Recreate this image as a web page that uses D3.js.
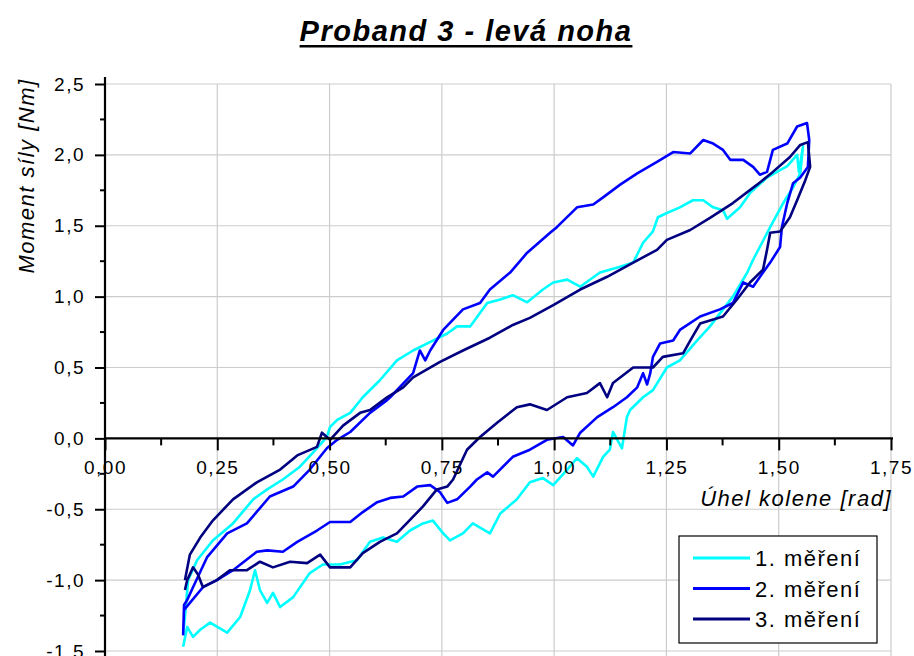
<!DOCTYPE html>
<html>
<head>
<meta charset="utf-8">
<script src="https://cdn.jsdelivr.net/npm/d3@7"></script>
<style>
  body { margin: 0; background: #fff; }
  text { font-family: "Liberation Sans", Arial, sans-serif; fill: #000; }
</style>
</head>
<body>
<svg id="chart"></svg>
<script>
// values: [angle rad, moment Nm]
const xTicks = [0, 0.25, 0.5, 0.75, 1, 1.25, 1.5, 1.75]
const yTicks = [-1.5, -1, -0.5, 0, 0.5, 1, 1.5, 2, 2.5]
const names = ['1. měření', '2. měření', '3. měření']
const colors = ['#00ffff', '#0000ff', '#000080']

const mereni1 = [
	[0.174,-1.47],[0.183,-1.33],[0.196,-1.40],[0.212,-1.35],[0.234,-1.30],[0.272,-1.37],[0.301,-1.26],
	[0.323,-1.07],[0.334,-0.93],[0.345,-1.07],[0.361,-1.16],[0.374,-1.09],[0.390,-1.19],[0.419,-1.12],
	[0.456,-0.95],[0.485,-0.89],[0.523,-0.89],[0.561,-0.86],[0.590,-0.73],[0.619,-0.70],[0.650,-0.73],
	[0.679,-0.65],[0.708,-0.60],[0.730,-0.58],[0.753,-0.67],[0.768,-0.72],[0.797,-0.67],[0.819,-0.60],
	[0.857,-0.67],[0.880,-0.53],[0.917,-0.43],[0.946,-0.31],[0.975,-0.28],[0.998,-0.33],[1.029,-0.22],
	[1.051,-0.14],[1.073,-0.20],[1.087,-0.27],[1.109,-0.13],[1.124,-0.08],[1.131,0.045],[1.151,-0.07],
	[1.162,0.15],[1.169,0.20],[1.198,0.29],[1.220,0.34],[1.251,0.50],[1.280,0.55],[1.318,0.69],
	[1.347,0.79],[1.376,0.91],[1.398,1.00],[1.430,1.17],[1.443,1.26],[1.481,1.49],[1.510,1.66],
	[1.532,1.77],[1.548,1.87],[1.554,2.06],[1.545,1.88],[1.541,2.00],
	[1.519,1.92],[1.496,1.88],[1.474,1.84],[1.436,1.73],[1.414,1.63],[1.385,1.55],[1.376,1.61],
	[1.354,1.63],[1.332,1.68],[1.309,1.68],[1.280,1.63],[1.251,1.59],[1.231,1.56],[1.220,1.46],
	[1.198,1.38],[1.176,1.24],[1.147,1.21],[1.102,1.17],[1.058,1.07],[1.029,1.12],[0.998,1.10],
	[0.975,1.05],[0.940,0.96],[0.908,1.01],[0.880,0.98],[0.851,0.955],[0.813,0.79],[0.784,0.79],
	[0.762,0.74],[0.730,0.69],[0.686,0.62],[0.650,0.55],[0.612,0.41],[0.574,0.29],[0.546,0.18],
	[0.517,0.13],[0.501,0.08],[0.494,0.01],[0.483,-0.03],[0.463,-0.10],[0.434,-0.20],[0.396,-0.29],
	[0.361,-0.36],[0.330,-0.43],[0.285,-0.60],[0.240,-0.72],[0.205,-0.86],[0.185,-1.00],[0.178,-1.26],
	[0.174,-1.37]
]

const mereni2 = [
	[0.174,-1.39],[0.176,-1.175],[0.183,-1.14],[0.196,-1.05],[0.227,-0.84],[0.272,-0.67],[0.316,-0.60],
	[0.367,-0.41],[0.419,-0.34],[0.456,-0.22],[0.494,-0.07],[0.517,-0.01],[0.546,0.045],[0.590,0.18],
	[0.628,0.27],[0.635,0.29],[0.686,0.46],[0.701,0.62],[0.713,0.55],[0.724,0.62],[0.753,0.765],
	[0.797,0.91],[0.835,0.955],[0.857,1.05],[0.902,1.17],[0.940,1.31],[0.991,1.45],[1.006,1.49],
	[1.051,1.63],[1.087,1.65],[1.109,1.70],[1.147,1.79],[1.185,1.87],[1.229,1.95],[1.265,2.02],
	[1.303,2.01],[1.332,2.105],[1.354,2.08],[1.376,2.035],[1.392,1.965],[1.421,1.965],[1.443,1.915],
	[1.458,1.86],[1.474,1.88],[1.487,2.035],[1.519,2.08],[1.541,2.20],[1.563,2.225],[1.568,2.105],
	[1.565,1.915],
	[1.548,1.84],[1.532,1.80],[1.519,1.66],[1.507,1.49],[1.503,1.35],[1.481,1.24],[1.465,1.17],
	[1.443,1.07],[1.421,1.10],[1.398,0.955],[1.369,0.91],[1.325,0.86],[1.280,0.765],[1.265,0.69],
	[1.236,0.67],[1.220,0.575],[1.214,0.46],[1.207,0.38],[1.198,0.46],[1.185,0.36],[1.162,0.29],
	[1.131,0.22],[1.096,0.15],[1.058,0.04],[1.042,-0.05],[1.020,0.01],[0.984,-0.01],[0.946,-0.08],
	[0.908,-0.13],[0.864,-0.27],[0.851,-0.24],[0.828,-0.29],[0.813,-0.34],[0.784,-0.43],[0.762,-0.455],
	[0.746,-0.38],[0.724,-0.33],[0.695,-0.34],[0.664,-0.41],[0.635,-0.42],[0.606,-0.45],[0.574,-0.52],
	[0.546,-0.59],[0.501,-0.59],[0.472,-0.65],[0.428,-0.73],[0.396,-0.80],[0.361,-0.79],[0.338,-0.80],
	[0.285,-0.93],[0.249,-1.00],[0.218,-1.05],[0.189,-1.16],[0.176,-1.21]
]

const mereni3 = [
	[0.178,-1.00],[0.189,-0.82],[0.212,-0.70],[0.240,-0.58],[0.285,-0.43],[0.338,-0.31],[0.390,-0.22],
	[0.428,-0.12],[0.472,-0.06],[0.483,0.04],[0.494,0.01],[0.501,-0.01],[0.530,0.09],[0.568,0.18],
	[0.590,0.20],[0.628,0.29],[0.664,0.36],[0.686,0.43],[0.746,0.54],[0.797,0.62],[0.857,0.71],
	[0.908,0.80],[0.946,0.85],[0.998,0.94],[1.058,1.05],[1.118,1.14],[1.176,1.24],[1.229,1.33],
	[1.251,1.40],[1.303,1.47],[1.347,1.555],[1.398,1.66],[1.452,1.79],[1.487,1.88],[1.525,1.985],
	[1.548,2.07],[1.565,2.09],[1.570,1.915],
	[1.559,1.82],[1.541,1.68],[1.525,1.56],[1.503,1.46],[1.481,1.45],[1.474,1.33],[1.465,1.19],
	[1.436,1.10],[1.407,0.98],[1.376,0.86],[1.325,0.81],[1.303,0.69],[1.287,0.60],[1.242,0.575],
	[1.220,0.50],[1.176,0.50],[1.131,0.39],[1.118,0.29],[1.102,0.39],[1.073,0.32],[1.029,0.29],
	[0.984,0.20],[0.946,0.24],[0.917,0.22],[0.873,0.11],[0.835,0.01],[0.806,-0.08],[0.775,-0.29],
	[0.762,-0.34],[0.739,-0.36],[0.708,-0.48],[0.650,-0.67],[0.612,-0.73],[0.574,-0.81],[0.546,-0.91],
	[0.501,-0.91],[0.479,-0.82],[0.450,-0.88],[0.412,-0.87],[0.374,-0.91],[0.345,-0.87],[0.316,-0.93],
	[0.278,-0.93],[0.249,-1.00],[0.218,-1.05],[0.207,-0.96],[0.196,-0.91],[0.183,-1.00],[0.178,-1.07]
]

const allSeries = [mereni1, mereni2, mereni3]

var width = 914, height = 656
var svg = d3.select("#chart")
	.attr("width", width)
	.attr("height", height)

var xScale = d3.scaleLinear().domain([0, 1.75]).range([105, 891])
var yScale = d3.scaleLinear().domain([-1.5, 2.5]).range([651, 84])

var cz = d3.formatLocale({ decimal: ",", thousands: ".", grouping: [3], currency: ["", ""], minus: "-" })
var fmtX = cz.format(".2f")
var fmtY = cz.format(".1f")

// grid
svg.append("g").selectAll("line")
	.data(yTicks)
	.enter().append("line")
	.attr("x1", xScale(0)).attr("x2", xScale(1.75))
	.attr("y1", d => yScale(d)).attr("y2", d => yScale(d))
	.style("stroke", "#cccccc").style("stroke-width", 1.2)

svg.append("g").selectAll("line")
	.data(xTicks.slice(1))
	.enter().append("line")
	.attr("x1", d => xScale(d)).attr("x2", d => xScale(d))
	.attr("y1", yScale(2.5)).attr("y2", height)
	.style("stroke", "#cccccc").style("stroke-width", 1.2)

// curves
var line = d3.line()
	.x(d => xScale(d[0]))
	.y(d => yScale(d[1]))

allSeries.forEach(function (s, i) {
	svg.append("path")
		.datum(s)
		.attr("d", line)
		.style("fill", "none")
		.style("stroke", colors[i])
		.style("stroke-width", 2.6)
		.style("stroke-linejoin", "round")
})

// y axis
var minorY = d3.range(-1.25, 2.5, 0.5)
var yAxis = svg.append("g")
	.attr("transform", `translate(${xScale(0)},0)`)
	.call(d3.axisLeft(yScale).tickValues(yTicks).tickSize(10).tickSizeOuter(0).tickFormat(fmtY))
yAxis.select(".domain").remove()
yAxis.selectAll("line").style("stroke", "#000").style("stroke-width", 2)
yAxis.selectAll("text")
	.attr("x", -20)
	.style("font-size", "19px")
	.style("letter-spacing", "1.5px")
	.style("font-family", "Liberation Sans, Arial, sans-serif")
yAxis.selectAll(".minor")
	.data(minorY)
	.enter().append("line")
	.attr("x1", -5).attr("x2", 0)
	.attr("y1", d => yScale(d)).attr("y2", d => yScale(d))
	.style("stroke", "#000").style("stroke-width", 2)

// x axis on zero line
var minorX = d3.range(0.125, 1.75, 0.25)
var xAxis = svg.append("g")
	.attr("transform", `translate(0,${yScale(0)})`)
	.call(d3.axisBottom(xScale).tickValues(xTicks).tickSize(12).tickSizeOuter(0).tickFormat(fmtX))
xAxis.select(".domain").remove()
xAxis.selectAll("line").style("stroke", "#000").style("stroke-width", 2)
xAxis.selectAll("text")
	.attr("y", 22)
	.style("font-size", "19px")
	.style("letter-spacing", "1.5px")
	.style("font-family", "Liberation Sans, Arial, sans-serif")
xAxis.selectAll(".minor")
	.data(minorX)
	.enter().append("line")
	.attr("x1", d => xScale(d)).attr("x2", d => xScale(d))
	.attr("y1", 0).attr("y2", 7)
	.style("stroke", "#000").style("stroke-width", 2)

svg.append("line")
	.attr("x1", xScale(0)).attr("x2", xScale(1.75) + 2)
	.attr("y1", yScale(0)).attr("y2", yScale(0))
	.style("stroke", "#000").style("stroke-width", 2.2)
svg.append("line")
	.attr("x1", xScale(0)).attr("x2", xScale(0))
	.attr("y1", yScale(2.5) - 7).attr("y2", height)
	.style("stroke", "#000").style("stroke-width", 2.2)

// titles
var title = svg.append("text")
	.attr("x", 466).attr("y", 41)
	.attr("text-anchor", "middle")
	.style("font-size", "29px")
	.style("font-weight", "bold")
	.style("font-style", "italic")
	.style("letter-spacing", "1.5px")
	.text("Proband 3 - levá noha")
var tw = title.node().getComputedTextLength()
svg.append("rect")
	.attr("x", 466 - tw / 2).attr("y", 45)
	.attr("width", tw).attr("height", 2.5)
	.style("fill", "#000")

svg.append("text")
	.attr("transform", "translate(34,176) rotate(-90)")
	.attr("text-anchor", "middle")
	.style("font-size", "22px")
	.style("font-style", "italic")
	.style("letter-spacing", "1.5px")
	.text("Moment síly [Nm]")

svg.append("text")
	.attr("x", 892).attr("y", 506)
	.attr("text-anchor", "end")
	.style("font-size", "22px")
	.style("font-style", "italic")
	.style("letter-spacing", "1.5px")
	.text("Úhel kolene [rad]")

// legend
var legend = svg.append('g')
	.attr('transform', 'translate(679,536)')
legend.append('rect')
	.attr('width', 198).attr('height', 107)
	.style('fill', '#fff').style('stroke', '#000').style('stroke-width', 1.2)
legend.selectAll('line')
	.data(names)
	.enter().append('line')
	.attr('x1', 14).attr('x2', 71)
	.attr('y1', (d, i) => 22 + i * 30.5).attr('y2', (d, i) => 22 + i * 30.5)
	.style('stroke', (d, i) => colors[i])
	.style('stroke-width', 3)
legend.selectAll('text')
	.data(names)
	.enter().append('text')
	.attr('x', 76)
	.attr('y', (d, i) => 30 + i * 30.5)
	.style('font-size', '22px')
	.style('letter-spacing', '1.5px')
	.text(d => d)
</script>
</body>
</html>
